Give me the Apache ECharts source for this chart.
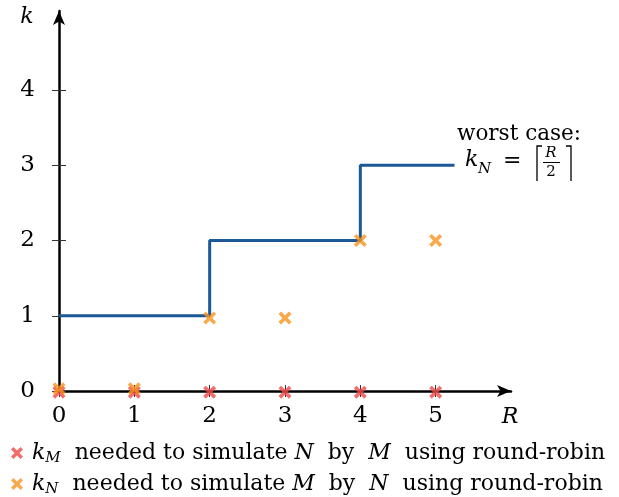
<!DOCTYPE html>
<html><head><meta charset="utf-8">
<script src="https://cdn.jsdelivr.net/npm/echarts@6/dist/echarts.min.js"></script>
<style>html,body{margin:0;padding:0;background:#fff}#c{width:619px;height:497px}</style>
</head><body><div id="c"></div>
<script>
const xTicks = [0, 1, 2, 3, 4, 5];
const yTicks = [0, 1, 2, 3, 4];
const kM = [[0, -0.015], [1, -0.015], [2, -0.015], [3, -0.015], [4, -0.015], [5, -0.015]];
const kN = [[0, 0.03], [1, 0.03], [2, 0.97], [3, 0.97], [4, 2.0], [5, 2.0]];
const worstCase = [[0, 1], [2, 2], [4, 3], [5.25, 3]];

const FONT = '"DejaVu Serif", "Liberation Serif", serif';
const cross = 'path://M0,2 L2,0 L5,3 L8,0 L10,2 L7,5 L10,8 L8,10 L5,7 L2,10 L0,8 L3,5Z';
const red = '#f04848';
const orange = '#f7921e';
const blue = '#1a5896';

const chart = echarts.init(document.getElementById('c'), null, {renderer: 'canvas'});
const tickStyle = {color: '#333', width: 1};
const baseX = {type: 'value', min: 0, max: 6, interval: 1, gridIndex: 0, splitLine: {show: false}};
const baseY = {type: 'value', min: 0, max: 5.05, interval: 1, gridIndex: 0, splitLine: {show: false}};
const rich = {
  i: {fontFamily: FONT, fontStyle: 'italic', fontSize: 22, color: '#000'},
  s: {fontFamily: FONT, fontStyle: 'italic', fontSize: 15, color: '#000', padding: [11, 0, 0, 0]},
  n: {fontFamily: FONT, fontSize: 22, color: '#000'}
};
const legendCommon = {
  orient: 'horizontal', left: 11, itemWidth: 12, itemHeight: 12, itemGap: 0, padding: 0,
  textStyle: {rich: rich, fontFamily: FONT, fontSize: 22, color: '#000', padding: [0, 0, 0, 4]},
  formatter: function (name) {
    if (name === 'kM') return '{i|k}{s|M}{n|  needed to simulate }{i|N}{n|  by  }{i|M}{n|  using round-robin}';
    return '{i|k}{s|N}{n|  needed to simulate }{i|M}{n|  by  }{i|N}{n|  using round-robin}';
  }
};
chart.setOption({
  animation: false,
  backgroundColor: '#fff',
  grid: {left: 59, top: 11, width: 452, height: 380, containLabel: false},
  xAxis: [
    Object.assign({}, baseX, {
      axisLine: {show: true, onZero: false, lineStyle: {color: '#000', width: 2.5}, symbol: ['none', 'arrow'], symbolSize: [9, 14]},
      axisTick: {show: true, inside: false, length: 6, lineStyle: tickStyle, customValues: xTicks},
      axisLabel: {show: true, margin: 14, fontFamily: FONT, fontSize: 23, color: '#000', customValues: xTicks}
    }),
    Object.assign({}, baseX, {
      position: 'bottom',
      axisLine: {show: false, onZero: false},
      axisTick: {show: true, inside: true, length: 6, lineStyle: tickStyle, customValues: xTicks},
      axisLabel: {show: false}
    })
  ],
  yAxis: [
    Object.assign({}, baseY, {
      axisLine: {show: true, onZero: false, lineStyle: {color: '#000', width: 2.5}, symbol: ['none', 'arrow'], symbolSize: [9, 14]},
      axisTick: {show: true, inside: false, length: 7, lineStyle: tickStyle, customValues: yTicks},
      axisLabel: {show: true, margin: 24, fontFamily: FONT, fontSize: 23, color: '#000', customValues: yTicks}
    }),
    Object.assign({}, baseY, {
      position: 'left',
      axisLine: {show: false, onZero: false},
      axisTick: {show: true, inside: true, length: 7, lineStyle: tickStyle, customValues: yTicks},
      axisLabel: {show: false}
    })
  ],
  legend: [
    Object.assign({}, legendCommon, {top: 442, data: [{name: 'kM', icon: cross, itemStyle: {color: red}}]}),
    Object.assign({}, legendCommon, {top: 473, data: [{name: 'kN', icon: cross, itemStyle: {color: orange}}]})
  ],
  series: [
    {
      name: 'worst', type: 'line', step: 'end', data: worstCase,
      showSymbol: false, symbol: 'none', lineStyle: {color: blue, width: 3}, z: 3
    },
    {
      name: 'kM', type: 'scatter', data: kM, symbol: cross, symbolSize: 13, clip: false,
      itemStyle: {color: red}, z: 4
    },
    {
      name: 'kN', type: 'scatter', data: kN, symbol: cross, symbolSize: 13, clip: false,
      itemStyle: {color: orange}, z: 5
    }
  ],
  graphic: [
    {type: 'text', style: {x: 27, y: 17, text: 'k', align: 'center', verticalAlign: 'middle', font: 'italic 22px ' + FONT, fill: '#000'}},
    {type: 'text', style: {x: 510, y: 417, text: 'R', align: 'center', verticalAlign: 'middle', font: 'italic 22px ' + FONT, fill: '#000'}},
    {type: 'text', style: {x: 457, y: 134, text: 'worst case:', align: 'left', verticalAlign: 'middle', font: '21.5px ' + FONT, fill: '#000'}},
    {type: 'text', style: {x: 465, y: 160, text: 'k', align: 'left', verticalAlign: 'middle', font: 'italic 22px ' + FONT, fill: '#000'}},
    {type: 'text', style: {x: 478, y: 169, text: 'N', align: 'left', verticalAlign: 'middle', font: 'italic 15px ' + FONT, fill: '#000'}},
    {type: 'text', style: {x: 503, y: 161, text: '=', align: 'left', verticalAlign: 'middle', font: '22px ' + FONT, fill: '#000'}},
    {type: 'polyline', shape: {points: [[537, 181], [537, 146], [542, 146]]}, style: {stroke: '#000', lineWidth: 1.3, fill: null}},
    {type: 'text', style: {x: 551, y: 153, text: 'R', align: 'center', verticalAlign: 'middle', font: 'italic 15px ' + FONT, fill: '#000'}},
    {type: 'line', shape: {x1: 543, y1: 162.5, x2: 560, y2: 162.5}, style: {stroke: '#000', lineWidth: 1}},
    {type: 'text', style: {x: 551, y: 172, text: '2', align: 'center', verticalAlign: 'middle', font: '15px ' + FONT, fill: '#000'}},
    {type: 'polyline', shape: {points: [[566, 146], [571, 146], [571, 181]]}, style: {stroke: '#000', lineWidth: 1.3, fill: null}}
  ]
});
</script></body></html>
